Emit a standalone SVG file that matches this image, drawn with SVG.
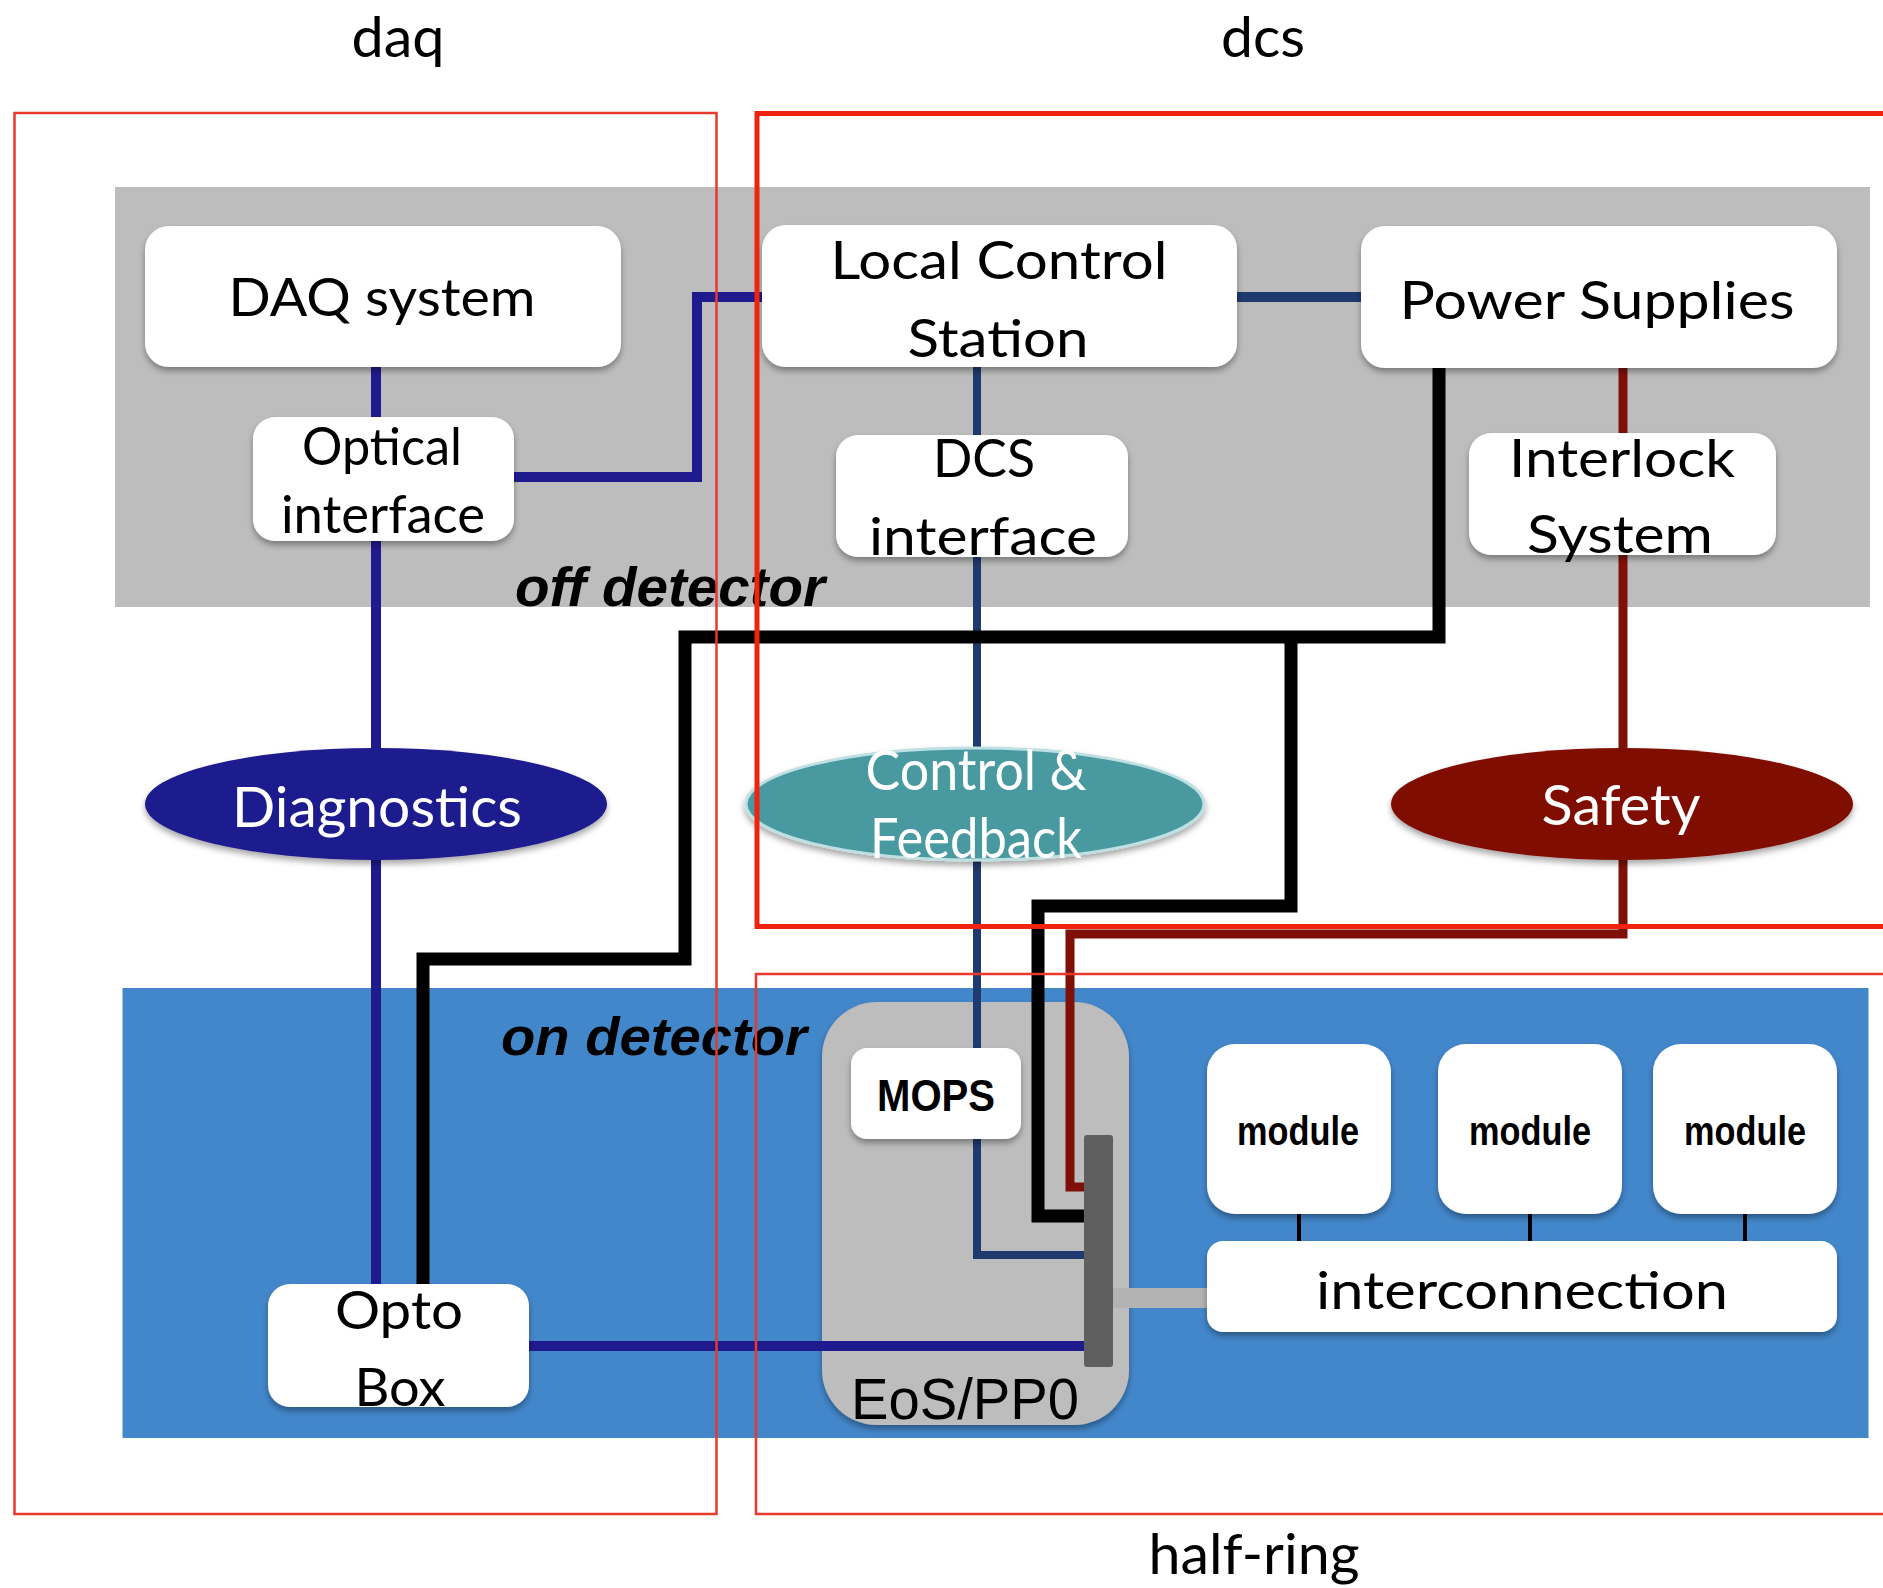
<svg xmlns="http://www.w3.org/2000/svg" width="1883" height="1588" viewBox="0 0 1883 1588">
  <defs>
    <filter id="shadow" x="-10%" y="-10%" width="120%" height="130%">
      <feDropShadow dx="0" dy="4" stdDeviation="3" flood-color="#000" flood-opacity="0.35"/>
    </filter>
    <style>
      .box { fill: #ffffff; filter: url(#shadow); }
      .lbl { font-family: Lato, "Open Sans", sans-serif; font-size: 53px; fill: #000; text-anchor: middle; }
      .wlbl { font-family: Lato, "Open Sans", sans-serif; font-size: 56px; fill: #fff; text-anchor: middle; }
      .zone { font-family: "Liberation Sans", Arial, sans-serif; font-weight: bold; font-style: italic; fill: #000; }
      .hv { font-family: "Liberation Sans", Arial, sans-serif; fill: #000; text-anchor: middle; }
      .title { font-family: Lato, "Open Sans", sans-serif; font-size: 57px; fill: #000; text-anchor: middle; }
      .navy { stroke: #1f1a8e; stroke-width: 10; fill: none; }
      .slate { stroke: #1f3a6e; fill: none; }
      .black { stroke: #000; stroke-width: 13; fill: none; }
      .darkred { stroke: #7f1008; stroke-width: 9; fill: none; }
      .frame { fill: none; stroke: #e8392c; stroke-width: 2.5; }
    </style>
  </defs>

  <rect x="0" y="0" width="1883" height="1588" fill="#ffffff"/>

  <!-- off-detector and on-detector areas -->
  <rect id="off-detector-area" x="115" y="187" width="1755" height="420" fill="#bdbdbd"/>
  <rect id="on-detector-area" x="122.5" y="988" width="1746" height="450" fill="#4387cb"/>

  <!-- EoS/PP0 container -->
  <g id="eos-pp0">
    <rect x="822" y="1002" width="307" height="423" rx="55" ry="55" fill="#bdbdbd" filter="url(#shadow)"/>
    <text class="hv" x="965" y="1419" font-size="58" textLength="228" lengthAdjust="spacingAndGlyphs">EoS/PP0</text>
  </g>

  <!-- connectors -->
  <g id="connectors">
    <path class="navy" d="M376 367 V417"/>
    <path class="navy" d="M376 541 V1284"/>
    <path class="navy" d="M514 477 H697 V297 H762"/>
    <path class="navy" d="M529 1346 H1084"/>
    <path class="slate" stroke-width="10" d="M1237 297 H1361"/>
    <path class="slate" stroke-width="8" d="M977 367 V435"/>
    <path class="slate" stroke-width="8" d="M977 557 V1048"/>
    <path class="slate" stroke-width="8" d="M977 1139 V1255 H1084"/>
    <path class="black" d="M1439 368 V637 H685 V959 H423 V1284"/>
    <path class="black" d="M1291 637 V906 H1038 V1216 H1084"/>
    <path class="darkred" d="M1623 368 V433"/>
    <path class="darkred" d="M1623 555 V748"/>
    <path class="darkred" d="M1623 860 V934 H1070 V1187 H1084"/>
    <path d="M1113 1298 H1207" stroke="#b3b3b3" stroke-width="20" fill="none"/>
    <path d="M1299 1214 V1241 M1530 1214 V1241 M1745 1214 V1241" stroke="#000" stroke-width="4" fill="none"/>
  </g>

  <!-- nodes -->
  <g id="daq-system">
    <rect class="box" x="145" y="226" width="476" height="141" rx="24"/>
    <text class="lbl" x="382" y="316" textLength="307" lengthAdjust="spacingAndGlyphs">DAQ system</text>
  </g>
  <g id="optical-interface">
    <rect class="box" x="253" y="417" width="261" height="124" rx="22"/>
    <text class="lbl" x="382" y="465" textLength="160" lengthAdjust="spacingAndGlyphs">Optical</text>
    <text class="lbl" x="383" y="533" textLength="204" lengthAdjust="spacingAndGlyphs">interface</text>
  </g>
  <g id="local-control-station">
    <rect class="box" x="762" y="225" width="475" height="142" rx="24"/>
    <text class="lbl" x="999" y="279" textLength="337" lengthAdjust="spacingAndGlyphs">Local Control</text>
    <text class="lbl" x="998" y="357" textLength="181" lengthAdjust="spacingAndGlyphs">Station</text>
  </g>
  <g id="power-supplies">
    <rect class="box" x="1361" y="226" width="476" height="142" rx="24"/>
    <text class="lbl" x="1597" y="319" textLength="395" lengthAdjust="spacingAndGlyphs">Power Supplies</text>
  </g>
  <g id="dcs-interface">
    <rect class="box" x="836" y="435" width="292" height="122" rx="22"/>
    <text class="lbl" x="984" y="477" textLength="102" lengthAdjust="spacingAndGlyphs">DCS</text>
    <text class="lbl" x="983" y="555" textLength="228" lengthAdjust="spacingAndGlyphs">interface</text>
  </g>
  <g id="interlock-system">
    <rect class="box" x="1469" y="433" width="307" height="122" rx="22"/>
    <text class="lbl" x="1622" y="477" textLength="226" lengthAdjust="spacingAndGlyphs">Interlock</text>
    <text class="lbl" x="1620" y="553" textLength="186" lengthAdjust="spacingAndGlyphs">System</text>
  </g>
  <g id="diagnostics">
    <ellipse cx="376" cy="804" rx="231" ry="56" fill="#1f1a8e" filter="url(#shadow)"/>
    <text class="wlbl" x="377" y="827" textLength="290" lengthAdjust="spacingAndGlyphs">Diagnostics</text>
  </g>
  <g id="control-feedback">
    <ellipse cx="975" cy="804" rx="229" ry="56" fill="#4899a0" stroke="#bfe0e2" stroke-width="3" filter="url(#shadow)"/>
    <text class="wlbl" x="976" y="790" textLength="221" lengthAdjust="spacingAndGlyphs">Control &amp;</text>
    <text class="wlbl" x="976" y="858" textLength="212" lengthAdjust="spacingAndGlyphs">Feedback</text>
  </g>
  <g id="safety">
    <ellipse cx="1622" cy="804" rx="231" ry="56" fill="#7f0f05" filter="url(#shadow)"/>
    <text class="wlbl" x="1621" y="825" textLength="159" lengthAdjust="spacingAndGlyphs">Safety</text>
  </g>
  <g id="opto-box">
    <rect class="box" x="268" y="1284" width="261" height="123" rx="22"/>
    <text class="lbl" x="399" y="1329" textLength="128" lengthAdjust="spacingAndGlyphs">Opto</text>
    <text class="lbl" x="400" y="1406" textLength="91" lengthAdjust="spacingAndGlyphs">Box</text>
  </g>
  <g id="mops">
    <rect class="box" x="851" y="1048" width="170" height="91" rx="16"/>
    <text class="hv" x="936" y="1111" font-size="45" font-weight="bold" textLength="118" lengthAdjust="spacingAndGlyphs">MOPS</text>
  </g>
  <g id="module-1">
    <rect class="box" x="1207" y="1044" width="184" height="170" rx="28"/>
    <text class="hv" x="1298" y="1145" font-size="41" font-weight="bold" textLength="122" lengthAdjust="spacingAndGlyphs">module</text>
  </g>
  <g id="module-2">
    <rect class="box" x="1438" y="1044" width="184" height="170" rx="28"/>
    <text class="hv" x="1530" y="1145" font-size="41" font-weight="bold" textLength="122" lengthAdjust="spacingAndGlyphs">module</text>
  </g>
  <g id="module-3">
    <rect class="box" x="1653" y="1044" width="184" height="170" rx="28"/>
    <text class="hv" x="1745" y="1145" font-size="41" font-weight="bold" textLength="122" lengthAdjust="spacingAndGlyphs">module</text>
  </g>
  <g id="interconnection">
    <rect class="box" x="1207" y="1241" width="630" height="91" rx="16"/>
    <text class="lbl" x="1522" y="1309" textLength="412" lengthAdjust="spacingAndGlyphs">interconnection</text>
  </g>
  <g id="patch-bar">
    <rect x="1084" y="1135" width="29" height="232" rx="3" fill="#5f5f5f"/>
  </g>

  <!-- area labels -->
  <text class="zone" x="515" y="606" font-size="56" textLength="310" lengthAdjust="spacingAndGlyphs">off detector</text>
  <text class="zone" x="501" y="1055" font-size="54" textLength="306" lengthAdjust="spacingAndGlyphs">on detector</text>

  <!-- grouping frames -->
  <g id="frames">
    <rect class="frame" x="14.5" y="113" width="702" height="1401"/>
    <rect x="757" y="113.5" width="1140" height="813" fill="none" stroke="#f0230f" stroke-width="5"/>
    <rect class="frame" x="756" y="974" width="1140" height="540"/>
  </g>

  <text class="title" x="398" y="57" textLength="93" lengthAdjust="spacingAndGlyphs">daq</text>
  <text class="title" x="1263" y="57" textLength="84" lengthAdjust="spacingAndGlyphs">dcs</text>
  <text class="title" x="1254" y="1574" textLength="211" lengthAdjust="spacingAndGlyphs">half-ring</text>
</svg>
